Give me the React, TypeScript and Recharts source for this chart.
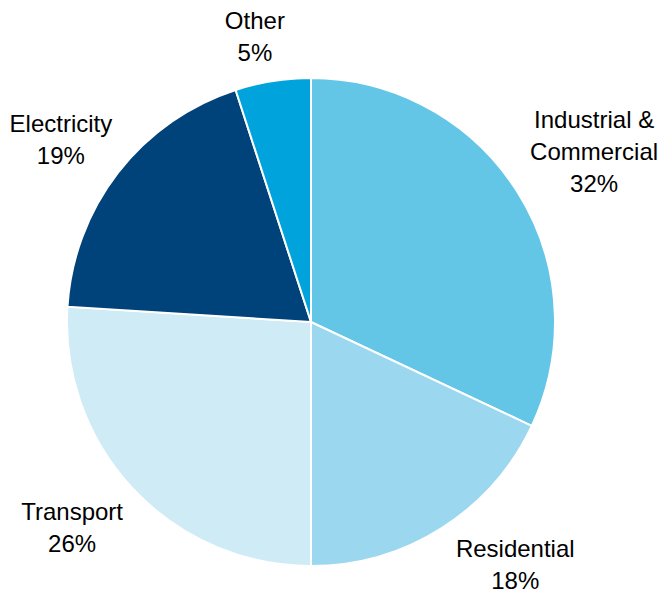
import React from 'react';
import { PieChart, Pie, Cell } from 'recharts';

const sectors = ['Industrial & Commercial', 'Residential', 'Transport', 'Electricity', 'Other'];
const shares = [32, 18, 26, 19, 5];
const labelLines = [['Industrial &', 'Commercial'], ['Residential'], ['Transport'], ['Electricity'], ['Other']];
const COLORS = ['#63C6E7', '#9BD8F0', '#CFEBF5', '#00427A', '#00A3DB'];
// small hand nudges so labels sit where the original placed them
const LABEL_NUDGE = [[18, -3], [36, -23], [-10, -10], [-2, 9], [-7, 24]];

const data = sectors.map((name, i) => ({ name, value: shares[i], lines: labelLines[i] }));

const RAD = Math.PI / 180;
const LINE_H = 32;

const SliceLabel: React.FC<any> = ({ cx, cy, midAngle, outerRadius, index }) => {
    const r = outerRadius + 70;
    const x = cx + r * Math.cos(-midAngle * RAD) + LABEL_NUDGE[index][0];
    const y = cy + r * Math.sin(-midAngle * RAD) + LABEL_NUDGE[index][1];
    const lines = [...data[index].lines, `${data[index].value}%`];
    const top = y - ((lines.length - 1) * LINE_H) / 2;
    return (
        <text
            x={x}
            y={top}
            textAnchor="middle"
            dominantBaseline="central"
            fill="#000"
            fontSize={24}
            fontFamily="'Liberation Sans', Arial, sans-serif"
        >
            {lines.map((t, i) => (
                <tspan key={i} x={x} y={top + i * LINE_H}>{t}</tspan>
            ))}
        </text>
    );
};

const App: React.FC = () => {
    return (
        <div style={{ position: 'absolute', left: 0, top: 0, width: 661, height: 593, background: '#fff' }}>
            <PieChart width={661} height={593} margin={{ top: 0, right: 0, bottom: 0, left: 0 }}>
                <Pie
                    data={data}
                    dataKey="value"
                    nameKey="name"
                    cx={311}
                    cy={322}
                    outerRadius={244}
                    startAngle={90}
                    endAngle={-270}
                    stroke="#fff"
                    strokeWidth={2}
                    labelLine={false}
                    label={<SliceLabel />}
                    isAnimationActive={false}
                >
                    {data.map((entry, index) => (
                        <Cell key={`cell-${index}`} fill={COLORS[index]} />
                    ))}
                </Pie>
            </PieChart>
        </div>
    );
};

export default App;
